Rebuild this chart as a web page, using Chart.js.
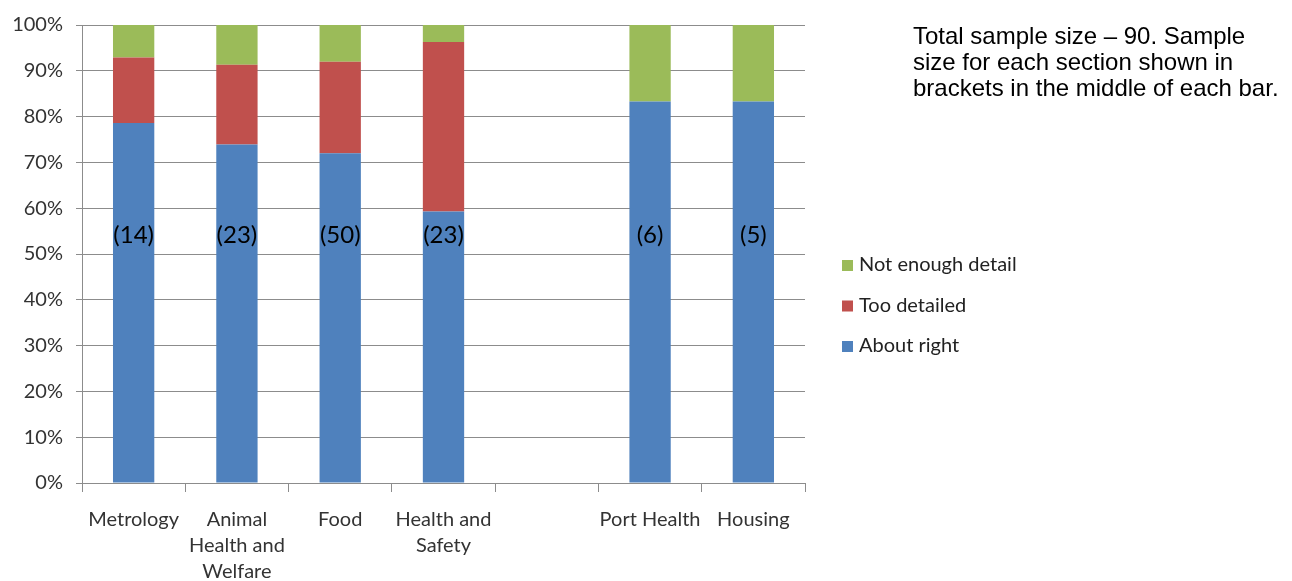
<!DOCTYPE html>
<html>
<head>
<meta charset="utf-8">
<script src="https://cdn.jsdelivr.net/npm/chart.js@4"></script>
<style>
  html, body { margin: 0; padding: 0; background: #fff; }
  #wrap { position: relative; width: 1292px; height: 581px; }
  #note {
    position: absolute; left: 913px; top: 23px; width: 379px;
    font-family: "Liberation Sans", Arial, sans-serif; font-size: 24px;
    line-height: 26px; color: #000; white-space: nowrap;
  }
</style>
</head>
<body>
<div id="wrap">
  <canvas id="barCanvas" width="1292" height="581"></canvas>
  <div id="note">Total sample size – 90. Sample<br>size for each section shown in<br>brackets in the middle of each bar.</div>
</div>
<script>
// categories (empty slot between Health and Safety and Port Health)
const categories = [
  ["Metrology"],
  ["Animal", "Health and", "Welfare"],
  ["Food"],
  ["Health and", "Safety"],
  [""],
  ["Port Health"],
  ["Housing"]
]
// percentages per section
const aboutRight = [78.6, 73.9, 72.0, 59.3, null, 83.3, 83.3]
const tooDetailed = [14.3, 17.4, 20.0, 37.0, null, 0, 0]
const notEnough = [7.1, 8.7, 8.0, 3.7, null, 16.7, 16.7]
// sample size shown inside each bar
const sampleSizes = [14, 23, 50, 23, null, 6, 5]
const yTicks = [0, 10, 20, 30, 40, 50, 60, 70, 80, 90, 100]

const fontCalibri = "Lato, 'Open Sans', sans-serif"
const gridGris = "#8c8c8c"

// texte (n) au milieu des barres
const sampleLabels = {
  id: "sampleLabels",
  afterDatasetsDraw(chart) {
    const ctx = chart.ctx
    const meta = chart.getDatasetMeta(0)
    const y = chart.scales.y.getPixelForValue(54)
    ctx.save()
    ctx.font = "24px " + fontCalibri
    ctx.fillStyle = "#000"
    ctx.textAlign = "center"
    ctx.textBaseline = "middle"
    sampleSizes.forEach((n, i) => {
      if (n === null) return
      ctx.fillText("(" + n + ")", meta.data[i].x, y)
    })
    ctx.restore()
  }
}

// legende maison a droite, ordre inverse
const legendeDroite = {
  id: "legendeDroite",
  afterDraw(chart) {
    const ctx = chart.ctx
    const ds = chart.data.datasets.slice().reverse()
    ctx.save()
    ctx.font = "20px " + fontCalibri
    ctx.textBaseline = "middle"
    ds.forEach((d, i) => {
      const y = 265 + i * 40.5
      ctx.fillStyle = d.backgroundColor
      ctx.fillRect(842, y - 5, 11, 11)
      ctx.fillStyle = "#222"
      ctx.fillText(d.label, 859, y)
    })
    ctx.restore()
  }
}

const barCanvas = document.getElementById("barCanvas")
new Chart(barCanvas, {
  type: "bar",
  data: {
    labels: categories,
    datasets: [
      { label: "About right", data: aboutRight, backgroundColor: "#4F81BD" },
      { label: "Too detailed", data: tooDetailed, backgroundColor: "#C0504D" },
      { label: "Not enough detail", data: notEnough, backgroundColor: "#9BBB59" }
    ]
  },
  options: {
    responsive: false,
    animation: false,
    devicePixelRatio: 1,
    layout: { padding: { top: 24, right: 487, left: 0, bottom: 0 } },
    datasets: { bar: { barPercentage: 0.4, categoryPercentage: 1 } },
    plugins: {
      legend: { display: false },
      tooltip: { enabled: false }
    },
    scales: {
      x: {
        stacked: true,
        grid: {
          offset: true,
          drawOnChartArea: false,
          color: gridGris,
          tickLength: 9
        },
        border: { color: gridGris },
        ticks: {
          autoSkip: false,
          maxRotation: 0,
          padding: 14,
          color: "#333",
          font: { family: fontCalibri, size: 20, lineHeight: 1.32 }
        },
        afterFit(scale) { scale.height = 98 }
      },
      y: {
        stacked: true,
        min: 0,
        max: 100,
        afterBuildTicks(scale) { scale.ticks = yTicks.map(v => ({ value: v })) },
        grid: { color: gridGris, tickLength: 6 },
        border: { color: gridGris },
        ticks: {
          padding: 13,
          color: "#333",
          font: { family: fontCalibri, size: 20 },
          callback: v => v + "%"
        },
        afterFit(scale) { scale.width = 82 }
      }
    }
  },
  plugins: [sampleLabels, legendeDroite]
})
</script>
</body>
</html>
